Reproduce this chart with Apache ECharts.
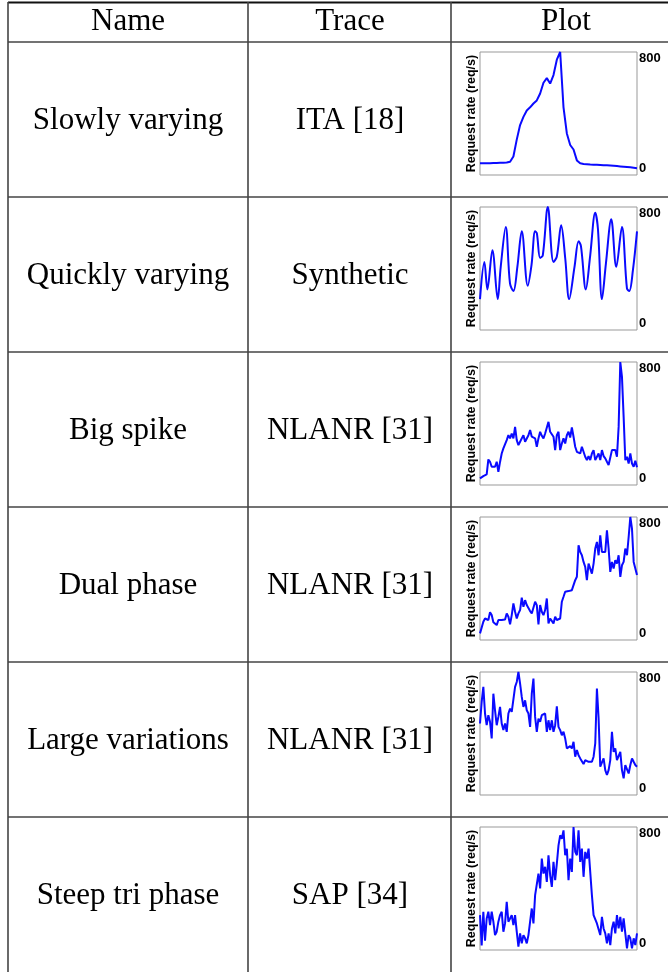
<!DOCTYPE html>
<html><head><meta charset="utf-8">
<script src="https://cdn.jsdelivr.net/npm/echarts@6/dist/echarts.min.js"></script>
<style>html,body{margin:0;padding:0;background:#fff}#c{width:668px;height:972px}</style>
</head><body><div id="c"></div>
<script>
// ---- Table contents ----
const headers = ['Name', 'Trace', 'Plot'];
const names = ['Slowly varying', 'Quickly varying', 'Big spike', 'Dual phase', 'Large variations', 'Steep tri phase'];
const traces = ['ITA [18]', 'Synthetic', 'NLANR [31]', 'NLANR [31]', 'NLANR [31]', 'SAP [34]'];
const yTickLabels = ['0', '800'];
const yName = 'Request rate (req/s)';

// ---- Series values (req/s), uniformly sampled in time ----
const slowlyVarying = [76,76,77,77,78,78,79,80,81,86,120,230,325,378,420,440,465,485,530,600,
  630,595,650,750,800,440,270,195,166,95,76,72,70,68,67,66,65,64,63,62,60,58,56,54,52,50,47,44];

// Synthetic: time (% of trace) and value pairs at turning points
const quickTime = [0,2.8,4.7,7.9,11.3,13.2,16.4,19.1,21.3,23.8,26.6,30.4,32.8,35.1,36.2,38.3,40,43.2,46.8,48.9,
  51.7,54.3,56.8,60.2,62.8,64.3,67.4,70.2,73.4,75.1,77.7,80.2,83.6,86.8,90.4,93.6,95.1,97.4,100];
const quickVals = [201,443,264,519,201,411,670,303,253,411,642,288,422,642,630,469,486,800,443,476,
  681,465,201,411,577,545,264,486,763,660,201,432,720,411,670,270,253,389,642];

const bigSpike = [43,50,58,65,69,166,151,119,130,119,151,86,150,205,238,227,292,324,303,335,
  303,378,292,259,281,303,324,281,292,324,357,314,324,303,249,303,346,320,303,335,
  335,411,346,346,314,227,324,346,227,270,303,270,324,346,309,374,314,249,216,216,
  205,249,238,184,162,188,162,205,227,162,173,205,162,227,188,173,151,130,140,227,
  236,227,184,378,800,703,443,162,184,140,205,140,119,158,115];

const dualPhase = [43,54,119,140,145,130,180,162,115,123,97,130,123,130,130,134,173,151,102,162,
  238,184,140,173,195,275,216,259,227,238,188,173,173,249,227,102,227,184,162,195,
  270,108,140,130,108,151,130,140,140,249,281,314,309,318,309,324,318,389,411,616,
  573,551,508,476,389,497,504,432,497,595,638,551,681,573,573,573,714,595,443,508,
  465,519,497,551,411,486,508,595,551,670,800,724,508,519,422];

const largeVariations = [465,605,703,530,454,519,476,368,659,551,454,508,573,465,422,465,411,530,562,541,
  551,703,735,800,724,638,573,616,551,530,443,659,757,508,411,497,476,519,530,530,
  411,486,422,486,411,454,577,443,422,389,411,368,303,303,318,303,346,249,292,259,
  238,249,201,227,227,216,227,216,249,335,692,500,184,173,238,162,130,162,227,411,
  281,303,227,238,281,162,108,195,205,140,195,238,216,195,184];

const steepTriPhase = [227,30,249,60,205,249,162,249,184,97,119,184,227,249,119,173,314,184,205,227,
  162,227,119,22,108,43,97,76,43,97,184,270,173,357,346,497,400,595,497,541,
  443,616,486,411,573,454,562,681,746,724,778,616,659,454,595,508,800,638,616,778,
  573,659,476,638,595,659,659,357,227,216,173,162,97,216,140,108,43,108,32,140,
  184,108,227,140,216,119,205,108,11,97,76,11,76,32,108];

const seriesList = [slowlyVarying, null, bigSpike, dualPhase, largeVariations, steepTriPhase];

// ---- Layout ----
const W = 668, H = 972;
const colX = [8, 248, 451];
const headerBottom = 42;
const rowH = 155;
const nameCx = 128, traceCx = 350, plotCx = 566;
const plotLeft = 480, plotW = 157, plotTop0 = 52, plotH = 123;
const serif = '"Liberation Serif", "DejaVu Serif", serif';
const textFont = '31px ' + serif;
const lineColor = '#444';
const blue = '#0a0aff';

const chart = echarts.init(document.getElementById('c'), null, {renderer: 'canvas', width: W, height: H});

const graphics = [];
// horizontal rules
graphics.push({type: 'line', shape: {x1: 8, y1: 2.5, x2: W, y2: 2.5}, style: {stroke: '#111', lineWidth: 2}, silent: true});
for (let i = 0; i < 6; i++) {
  const y = headerBottom + i * rowH;
  graphics.push({type: 'line', shape: {x1: 8, y1: y, x2: W, y2: y}, style: {stroke: lineColor, lineWidth: 1.6}, silent: true});
}
// vertical rules
colX.forEach(x => graphics.push({type: 'line', shape: {x1: x, y1: 2, x2: x, y2: H}, style: {stroke: lineColor, lineWidth: 1.6}, silent: true}));

function txt(t, x, y) {
  return {type: 'text', silent: true, style: {text: t, x: x, y: y, font: textFont, fill: '#000',
    textAlign: 'center', align: 'center', textVerticalAlign: 'middle', verticalAlign: 'middle'}};
}
graphics.push(txt(headers[0], nameCx, 22));
graphics.push(txt(headers[1], traceCx, 22));
graphics.push(txt(headers[2], plotCx, 22));
for (let i = 0; i < 6; i++) {
  const cy = headerBottom + i * rowH + rowH / 2 + 1;
  graphics.push(txt(names[i], nameCx, cy));
  graphics.push(txt(traces[i], traceCx, cy));
}

const grids = [], xAxes = [], yAxes = [], series = [];
for (let i = 0; i < 6; i++) {
  grids.push({left: plotLeft, top: plotTop0 + i * rowH, width: plotW, height: plotH,
    show: true, borderColor: '#999', borderWidth: 1, containLabel: false});
  if (i === 1) {
    xAxes.push({gridIndex: i, type: 'value', min: 0, max: 100, show: false});
  } else {
    xAxes.push({gridIndex: i, type: 'category', boundaryGap: false, show: false});
  }
  yAxes.push({gridIndex: i, type: 'value', min: 0, max: 800, position: 'left',
    axisLine: {show: false}, axisTick: {show: false}, axisLabel: {show: false}, splitLine: {show: false},
    name: yName, nameLocation: 'middle', nameGap: 2, nameRotate: 90,
    nameTextStyle: {fontFamily: '"Liberation Sans", Arial, sans-serif', fontWeight: 'bold', fontSize: 12.5, color: '#000',
      verticalAlign: 'bottom'}});
  yAxes.push({gridIndex: i, type: 'value', min: 0, max: 800, interval: 800, position: 'right',
    axisLine: {show: false}, axisTick: {show: false}, splitLine: {show: false},
    axisLabel: {show: true, margin: 2, fontFamily: '"Liberation Sans", Arial, sans-serif', fontWeight: 'bold',
      fontSize: 13, color: '#000', verticalAlignMinLabel: 'bottom', verticalAlignMaxLabel: 'top',
      formatter: v => (v === 0 ? yTickLabels[0] : yTickLabels[1])}});
  const data = i === 1 ? quickTime.map((t, k) => [t, quickVals[k]]) : seriesList[i];
  series.push({type: 'line', xAxisIndex: i, yAxisIndex: i * 2 + 1, data: data, showSymbol: false,
    smooth: i === 1 ? 0.35 : false, clip: true,
    lineStyle: {color: blue, width: 2}, itemStyle: {color: blue}});
}

chart.setOption({
  animation: false,
  backgroundColor: '#fff',
  grid: grids, xAxis: xAxes, yAxis: yAxes, series: series,
  graphic: graphics
});
</script></body></html>
